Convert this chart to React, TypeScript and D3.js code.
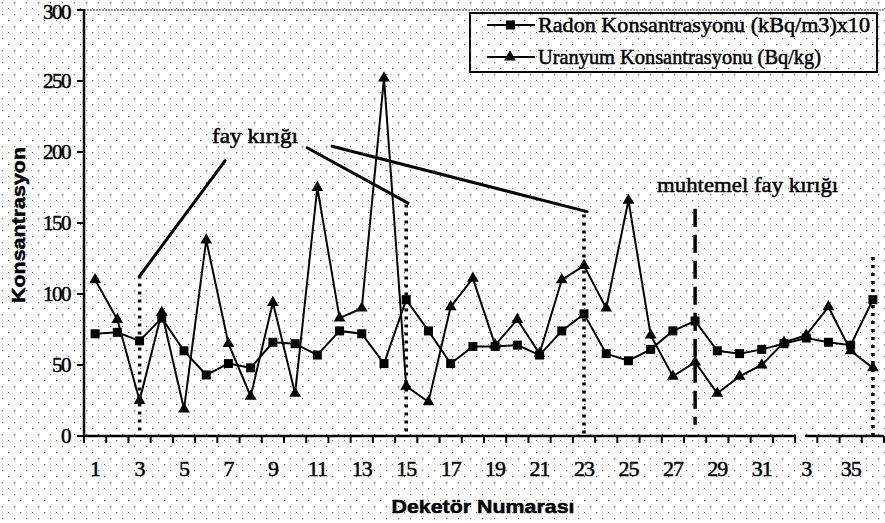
import React from "react";
import * as d3 from "d3";

const categories: number[] = Array.from({ length: 36 }, (_, i) => i + 1);
const radon: number[] = [72, 73, 67, 83, 60, 43, 51, 48, 66, 65, 57, 74, 72, 51, 96, 74, 51, 63, 63, 64, 57, 74, 86, 58, 53, 61, 74, 81, 60, 58, 61, 65, 69, 66, 64, 96];
const uranyum: number[] = [110, 82, 25, 87, 19, 138, 65, 28, 94, 30, 175, 83, 90, 252, 35, 24, 91, 111, 64, 82, 58, 110, 120, 90, 166, 71, 42, 52, 30, 42, 50, 66, 71, 91, 60, 48];
const labelCats: number[] = [1, 3, 5, 7, 9, 11, 13, 15, 17, 19, 21, 23, 25, 27, 29, 31, 33, 35];
const labelTexts: string[] = ["1", "3", "5", "7", "9", "11", "13", "15", "17", "19", "21", "23", "25", "27", "29", "31", "3", "35"];
const yTicks: number[] = [0, 50, 100, 150, 200, 250, 300];
const seriesNames: string[] = ["Radon Konsantrasyonu (kBq/m3)x10", "Uranyum Konsantrasyonu (Bq/kg)"];
const yTitle = "Konsantrasyon";
const xTitle = "Deketör Numarası";
const faultLabel = "fay kırığı";
const possibleFaultLabel = "muhtemel fay kırığı";
// dotted fault markers: [category, top value]
const faultMarkers: [number, number][] = [[3, 113], [15, 163], [23, 156], [36, 126]];
// pointer lines: [c1, v1, c2, v2]
const pointerLines: [number, number, number, number][] = [[6.85, 194, 3.02, 113], [10.54, 203, 15.08, 164], [11.66, 204, 23.14, 158]];
const possibleFault: [number, number, number] = [28, 160, 8];

const W = 885, H = 523;
const X0 = 84, X1 = 884, Y0 = 436, Y1 = 10;

export default function App() {
  const x = d3.scaleBand<number>().domain(categories).range([X0, X1]);
  const step = x.step();
  const cx = (c: number) => X0 + (c - 0.5) * step;
  const y = d3.scaleLinear().domain([0, 300]).range([Y0, Y1]);
  const line = d3.line<number>().x((_, i) => cx(categories[i])).y((d) => y(d));
  const tri = d3.symbol().type(d3.symbolTriangle).size(60)();
  const serif = "'Liberation Serif', serif";
  const sans = "'Liberation Sans', Arial, sans-serif";
  const heavy = { stroke: "#000", strokeWidth: 0.5 };

  return (
    <div style={{ position: "fixed", left: 0, top: 0 }}>
      <svg width={W} height={H} style={{ display: "block", background: "#fff" }}>
        <defs>
          <pattern id="dots" width="12" height="12" patternUnits="userSpaceOnUse">
            <rect x="2" y="2" width="1.2" height="1.2" fill="#666" />
            <rect x="8" y="8" width="1.2" height="1.2" fill="#666" />
          </pattern>
        </defs>
        <rect x={0} y={0} width={W} height={H} fill="url(#dots)" />

        {/* top border */}
        <line x1={X0} x2={X1} y1={Y1} y2={Y1} stroke="#777" strokeWidth={1.5} strokeDasharray="2,1" />

        {/* y axis */}
        <line x1={X0} x2={X0} y1={Y1 - 1} y2={Y0} stroke="#000" strokeWidth={2.5} />
        {yTicks.map((t) => (
          <g key={t}>
            <line x1={X0 - 7} x2={X0} y1={y(t)} y2={y(t)} stroke="#000" strokeWidth={2} />
            <text x={70} y={Math.max(y(t) + 7, 19)} textAnchor="end" fontFamily={serif} fontSize={21} letterSpacing={-1.5} {...heavy}>{t}</text>
          </g>
        ))}

        {/* x axis with break */}
        <line x1={X0} x2={796} y1={Y0} y2={Y0} stroke="#000" strokeWidth={2.5} />
        <line x1={805} x2={X1} y1={Y0} y2={Y0} stroke="#000" strokeWidth={2.5} />
        {d3.range(0, categories.length + 1).map((k) => (
          <line key={k} x1={X0 + k * step} x2={X0 + k * step} y1={Y0} y2={Y0 + 7} stroke="#000" strokeWidth={2} />
        ))}
        {labelCats.map((c, i) => (
          <text key={c} x={cx(c)} y={476} textAnchor="middle" fontFamily={serif} fontSize={22} letterSpacing={-1} {...heavy}>{labelTexts[i]}</text>
        ))}

        {/* axis titles */}
        <text transform={`translate(25,225) rotate(-90)`} textAnchor="middle" fontFamily={sans} fontWeight="bold" fontSize={18} textLength={156} lengthAdjust="spacingAndGlyphs" {...heavy}>{yTitle}</text>
        <text x={483} y={513} textAnchor="middle" fontFamily={sans} fontWeight="bold" fontSize={19} textLength={183} lengthAdjust="spacingAndGlyphs" {...heavy}>{xTitle}</text>

        {/* fault markers */}
        {faultMarkers.map(([c, v]) => (
          <line key={c} x1={cx(c)} x2={cx(c)} y1={y(v)} y2={y(0)} stroke="#000" strokeWidth={3.5} strokeDasharray="3,5" />
        ))}
        <line x1={cx(possibleFault[0])} x2={cx(possibleFault[0])} y1={y(possibleFault[1])} y2={y(possibleFault[2])} stroke="#000" strokeWidth={3.5} strokeDasharray="18,8" />
        {pointerLines.map(([c1, v1, c2, v2], i) => (
          <line key={i} x1={cx(c1)} y1={y(v1)} x2={cx(c2)} y2={y(v2)} stroke="#000" strokeWidth={3} strokeLinecap="round" />
        ))}
        <text x={cx(6.26)} y={y(206)} fontFamily={serif} fontSize={22} textLength={86} lengthAdjust="spacingAndGlyphs" {...heavy}>{faultLabel}</text>
        <text x={cx(26.29)} y={y(172)} fontFamily={serif} fontSize={22} textLength={181} lengthAdjust="spacingAndGlyphs" {...heavy}>{possibleFaultLabel}</text>

        {/* series */}
        <path d={line(radon) || ""} fill="none" stroke="#000" strokeWidth={2} />
        <path d={line(uranyum) || ""} fill="none" stroke="#000" strokeWidth={2} />
        {radon.map((v, i) => (
          <rect key={"r" + i} x={cx(categories[i]) - 4.5} y={y(v) - 4.5} width={9} height={9} fill="#000" />
        ))}
        {uranyum.map((v, i) => (
          <path key={"u" + i} d={tri || ""} transform={`translate(${cx(categories[i])},${y(v)})`} fill="#000" />
        ))}

        {/* legend */}
        <rect x={470} y={13} width={407} height={59} fill="#fff" stroke="#000" strokeWidth={2} />
        <rect x={470} y={13} width={407} height={59} fill="url(#dots)" />
        {seriesNames.map((n, i) => {
          const ly = i === 0 ? 25 : 57;
          return (
            <g key={n}>
              <line x1={487} x2={535} y1={ly} y2={ly} stroke="#000" strokeWidth={2} />
              {i === 0 ? (
                <rect x={506} y={ly - 4.5} width={9} height={9} fill="#000" />
              ) : (
                <path d={tri || ""} transform={`translate(510,${ly})`} fill="#000" />
              )}
              <text x={538} y={ly + 7} fontFamily={serif} fontSize={21} textLength={i === 0 ? 332 : 283} lengthAdjust="spacingAndGlyphs" {...heavy}>{n}</text>
            </g>
          );
        })}
      </svg>
    </div>
  );
}
